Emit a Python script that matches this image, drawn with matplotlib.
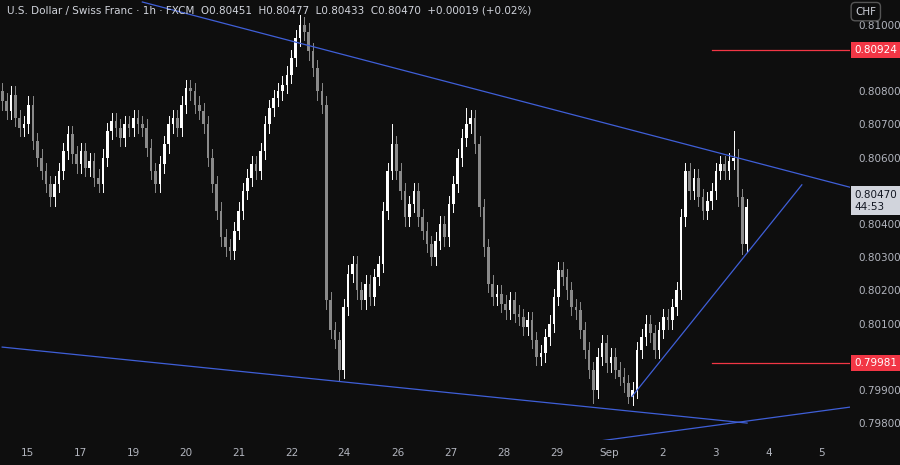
import matplotlib
matplotlib.use("Agg")
from matplotlib import pyplot as plt
from matplotlib.patches import Rectangle

# 2h-ish closes, in 1e-5 CHF units
closes = [80770, 80740, 80790, 80720, 80690, 80700, 80760, 80650, 80600, 80560, 80520, 80480, 80520,
          80560, 80620, 80670, 80610, 80580, 80620, 80570, 80590, 80540, 80520, 80600,
          80680, 80710, 80690, 80660, 80700, 80690, 80720, 80700, 80690, 80630,
          80560, 80520, 80580, 80640, 80700, 80720, 80690, 80760, 80810,
          80800, 80760, 80740, 80700, 80600, 80520, 80440, 80360, 80330, 80320, 80380,
          80440, 80500, 80540, 80580, 80560, 80620, 80700, 80750, 80780, 80800, 80820, 80850, 80900, 80960, 81000,
          80980, 80920, 80870, 80800, 80760,
          80170, 80080, 80050, 79960,
          80150, 80250, 80280, 80200, 80170, 80220, 80180, 80240, 80280,
          80440, 80560, 80640, 80560, 80500, 80420,
          80460, 80500, 80420, 80380, 80340, 80300, 80350, 80400, 80360,
          80460, 80520, 80600, 80660, 80700, 80720, 80640,
          80450, 80330, 80220, 80180, 80190,
          80160, 80140, 80170, 80130, 80120, 80090, 80110, 80050, 80000,
          80010, 80060, 80100, 80180, 80260,
          80240, 80200, 80150, 80140, 80080, 80020, 79960, 79900,
          80000, 80040, 79980, 80000, 79960, 79940, 79920, 79880, 79900,
          80020, 80060, 80100, 80070, 80020, 80080, 80120, 80110, 80150, 80200,
          80420, 80560, 80500, 80540, 80480, 80440, 80470,
          80500, 80560, 80580, 80560, 80590, 80600,
          80480, 80340, 80450]
first_open = 80800
wick = 25
special_highs = {68: 81030, 89: 80700, 106: 80750, 167: 80680}
special_lows = {77: 79930, 135: 79860, 143: 79860, 169: 80310}

day_pos = [5.7, 17.8, 29.9, 42, 54.1, 66.2, 78.1, 90.4, 102.5, 114.6, 126.7, 138.6, 150.7, 162.8, 175.1, 187.2]
day_labels = ["15", "17", "19", "20", "21", "22", "24", "26", "27", "28", "29", "Sep", "2", "3", "4", "5"]
y_ticks = [0.79800, 0.79900, 0.80100, 0.80200, 0.80300, 0.80400,
           0.80600, 0.80700, 0.80800, 0.81000]

resistance = [(32.0, 0.81069), (194.1, 0.80509)]
support_low = [(0, 0.80029), (170.1, 0.79800)]
support_rise = [(143.8, 0.79880), (182.6, 0.80518)]
support_bottom = [(134.7, 0.79743), (194.1, 0.79849)]
level_hi = 0.80924
level_lo = 0.79981
last_price = 0.80470

bg = "#0e0e0e"
txt = "#b2b5be"
fig = plt.figure(figsize=(9, 4.65), dpi=100, facecolor=bg)
ax = fig.add_axes([0, 25 / 465, 850 / 900, 1 - 25 / 465], facecolor=bg)

prev = first_open
for i, c in enumerate(closes):
    o = prev
    hi = max(o, c) + wick
    lo = min(o, c) - wick
    hi = special_highs.get(i, hi)
    lo = special_lows.get(i, lo)
    col = "#ffffff" if c >= o else "#8a8a8a"
    ax.plot([i, i], [lo / 1e5, hi / 1e5], color=col, lw=0.7, zorder=2)
    body = max(abs(c - o), 3) / 1e5
    ax.add_patch(Rectangle((i - 0.3, min(o, c) / 1e5), 0.6, body, color=col, lw=0, zorder=3))
    prev = c

blue = "#3f5fd8"
for ln in [resistance, support_low, support_rise, support_bottom]:
    ax.plot([ln[0][0], ln[1][0]], [ln[0][1], ln[1][1]], color=blue, lw=0.9, zorder=4)

ax.plot([162, 194], [level_hi] * 2, color="#f23645", lw=0.9)
ax.plot([162, 194], [level_lo] * 2, color="#f23645", lw=0.9)

ax.set_xlim(-0.5, 193.6)
ax.set_ylim(0.79749, 0.81075)
ax.set_xticks(day_pos)
ax.set_xticklabels(day_labels)
ax.set_yticks(y_ticks)
ax.set_yticklabels([f"{v:.5f}" for v in y_ticks])
ax.yaxis.tick_right()
ax.tick_params(colors=txt, labelsize=7.5, length=0, pad=6)
for s in ax.spines.values():
    s.set_visible(False)

for lbl, val, fc in [("0.80924", level_hi, "#f23645"), ("0.79981", level_lo, "#f23645")]:
    ax.text(1.005, val, lbl, transform=ax.get_yaxis_transform(), color="white", fontsize=7.5,
            va="center", ha="left", bbox=dict(boxstyle="square,pad=0.3", fc=fc, ec="none"))
ax.text(1.005, last_price, "0.80470\n44:53", transform=ax.get_yaxis_transform(), color="#131722",
        fontsize=7.5, va="center", ha="left", linespacing=1.3,
        bbox=dict(boxstyle="square,pad=0.3", fc="#d1d4dc", ec="none"))

fig.text(0.008, 0.978, "U.S. Dollar / Swiss Franc · 1h · FXCM  O0.80451  H0.80477  L0.80433  C0.80470  +0.00019 (+0.02%)",
         color="#d1d4dc", fontsize=7.5, va="center")
fig.text(0.962, 0.975, "CHF", color="#d1d4dc", fontsize=7.5, va="center", ha="center",
         bbox=dict(boxstyle="round,pad=0.4", fc=bg, ec="#555555"))

fig.savefig("out.png", dpi=100, facecolor=bg)
